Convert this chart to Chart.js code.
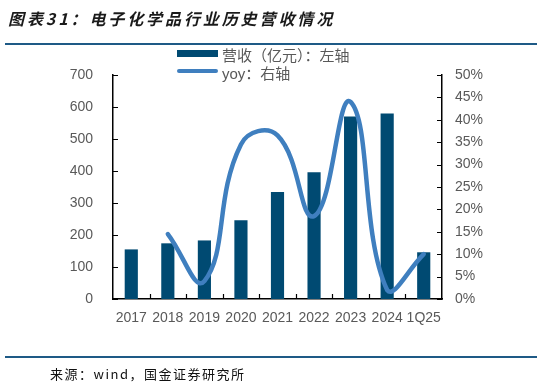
<!DOCTYPE html>
<html>
<head>
<meta charset="utf-8">
<script src="https://cdn.jsdelivr.net/npm/chart.js@4/dist/chart.umd.min.js"></script>
<style>
	body{margin:0;background:#fff;}
	#wrap{position:relative;width:541px;height:386px;overflow:hidden;font-family:Arial,"Liberation Sans","Noto Sans CJK SC",sans-serif;}
	#title{position:absolute;left:8px;top:6px;font-size:16px;font-weight:bold;font-style:italic;letter-spacing:2.9px;color:#1a1a1a;font-family:"Noto Sans CJK SC",sans-serif;white-space:nowrap;}
	.rule{position:absolute;left:5px;width:532px;height:2px;background:#1e5a86;}
	#source{position:absolute;left:50px;top:364px;font-size:13px;letter-spacing:1.5px;color:#111;font-family:"Noto Sans CJK SC",sans-serif;white-space:nowrap;}
	.lg{position:absolute;left:177px;font-size:15px;color:#595959;white-space:nowrap;}
	.sw1{position:absolute;left:177px;top:50px;width:41px;height:7px;background:#004a72;}
	.sw2{position:absolute;left:177px;top:69px;width:41px;height:4px;border-radius:2px;background:#3f7fbf;}
	#myChart{position:absolute;left:0;top:0;}
</style>
</head>
<body>
<div id="wrap">
	<canvas id="myChart" width="541" height="386"></canvas>
	<div id="title">图表31：电子化学品行业历史营收情况</div>
	<div class="rule" style="top:43px;"></div>
	<div class="sw1"></div>
	<div class="lg" style="left:222px;top:44px;">营收（亿元）：左轴</div>
	<div class="sw2"></div>
	<div class="lg" style="left:222px;top:62px;">yoy：右轴</div>
	<div class="rule" style="top:356px;"></div>
	<div id="source">来源：wind，国金证券研究所</div>
</div>
<script>
// 데이터
var years = ['2017', '2018', '2019', '2020', '2021', '2022', '2023', '2024', '1Q25'];
var revenue = [155, 174, 183, 246, 334, 396, 570, 580, 146];   // 营收(亿元)
var yoy = [null, 14.5, 4, 34.5, 36.5, 18.5, 44, 2, 10];         // yoy(%)
var leftTicks = [0, 100, 200, 300, 400, 500, 600, 700];
var rightTicks = [0, 5, 10, 15, 20, 25, 30, 35, 40, 45, 50];

var tickColor = '#595959';

// 안쪽으로 들어가는 눈금
var innerTicks = {
	id: 'innerTicks',
	afterDraw: function(chart){
		var ctx = chart.ctx;
		var a = chart.chartArea;
		var x = chart.scales.x, yl = chart.scales.y, yr = chart.scales.y1;
		ctx.save();
		ctx.strokeStyle = '#000';
		ctx.lineWidth = 1.2;
		ctx.beginPath();
		leftTicks.forEach(function(v){
			var p = Math.round(yl.getPixelForValue(v)) + 0.5;
			ctx.moveTo(a.left, p); ctx.lineTo(a.left + 5, p);
		});
		rightTicks.forEach(function(v){
			var p = Math.round(yr.getPixelForValue(v)) + 0.5;
			ctx.moveTo(a.right, p); ctx.lineTo(a.right - 5, p);
		});
		var half = (x.getPixelForValue(1) - x.getPixelForValue(0)) / 2;
		for(var i = 1; i < years.length; i++){
			var px = Math.round(x.getPixelForValue(i) - half) + 0.5;
			ctx.moveTo(px, a.bottom); ctx.lineTo(px, a.bottom - 5);
		}
		ctx.stroke();
		ctx.restore();
	}
};

var ctx = document.getElementById('myChart').getContext('2d');
var chart = new Chart(ctx, {
	type: 'bar',
	data: {
		labels: years,
		datasets: [{
			type: 'line',
			label: 'yoy：右轴',
			data: yoy,
			yAxisID: 'y1',
			borderColor: '#3f7fbf',
			borderWidth: 4.5,
			borderCapStyle: 'round',
			pointRadius: 0,
			tension: 0.45,
			fill: false,
			order: 0
		}, {
			type: 'bar',
			label: '营收（亿元）：左轴',
			data: revenue,
			yAxisID: 'y',
			backgroundColor: '#004a72',
			barPercentage: 0.36,
			categoryPercentage: 1,
			order: 1
		}]
	},
	options: {
		responsive: false,
		animation: false,
		layout: {padding: {top: 75, left: 0, right: 0, bottom: 0}},
		plugins: {legend: {display: false}, tooltip: {enabled: false}},
		scales: {
			x: {
				grid: {display: false, drawTicks: false},
				border: {display: true, color: '#000', width: 1.5},
				ticks: {color: tickColor, font: {size: 14, family: 'Arial, "Liberation Sans"'}, padding: 11, maxRotation: 0, autoSkip: false},
				afterFit: function(s){ s.height = 87; }
			},
			y: {
				position: 'left',
				min: 0, max: 700,
				afterBuildTicks: function(s){ s.ticks = leftTicks.map(function(v){ return {value: v}; }); },
				grid: {display: false, drawTicks: false},
				border: {display: true, color: '#000', width: 1.5},
				ticks: {color: tickColor, font: {size: 14, family: 'Arial, "Liberation Sans"'}, padding: 20},
				afterFit: function(s){ s.width = 113; }
			},
			y1: {
				position: 'right',
				min: 0, max: 50,
				afterBuildTicks: function(s){ s.ticks = rightTicks.map(function(v){ return {value: v}; }); },
				grid: {display: false, drawTicks: false},
				border: {display: true, color: '#000', width: 1.5},
				ticks: {color: tickColor, font: {size: 14, family: 'Arial, "Liberation Sans"'}, padding: 13,
					callback: function(v){ return v + '%'; }},
				afterFit: function(s){ s.width = 99; }
			}
		}
	},
	plugins: [innerTicks]
});
</script>
</body>
</html>
